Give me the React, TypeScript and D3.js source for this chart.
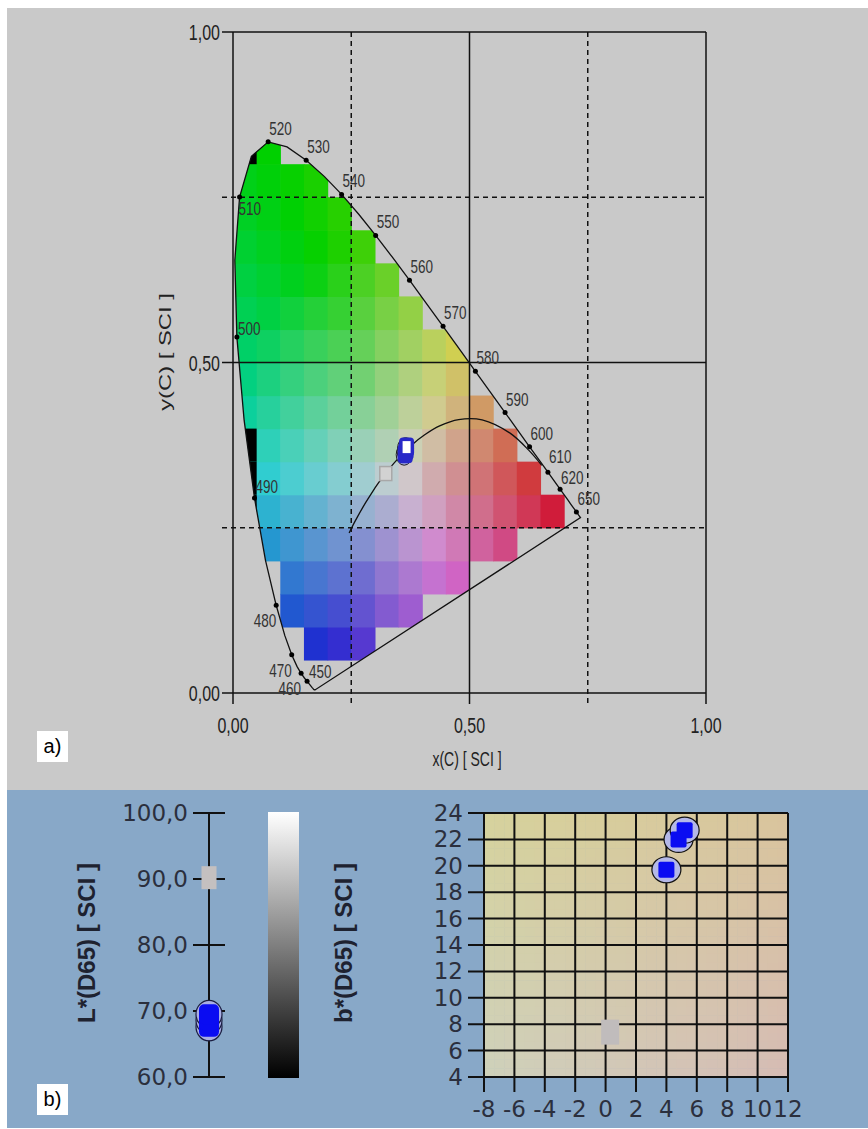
import React from 'react';
import * as d3 from 'd3';

// CIE 1931 spectral locus, 380..700 nm every 5 nm
const locusNm = [380, 385, 390, 395, 400, 405, 410, 415, 420, 425, 430, 435, 440, 445, 450, 455, 460, 465, 470, 475, 480, 485, 490, 495, 500, 505, 510, 515, 520, 525, 530, 535, 540, 545, 550, 555, 560, 565, 570, 575, 580, 585, 590, 595, 600, 605, 610, 615, 620, 625, 630, 635, 640, 645, 650, 655, 660, 665, 670, 675, 680, 685, 690, 695, 700];
const locusX = [0.1741, 0.1740, 0.1738, 0.1736, 0.1733, 0.1730, 0.1726, 0.1721, 0.1714, 0.1703, 0.1689, 0.1669, 0.1644, 0.1611, 0.1566, 0.1510, 0.1440, 0.1355, 0.1241, 0.1096, 0.0913, 0.0687, 0.0454, 0.0235, 0.0082, 0.0039, 0.0139, 0.0389, 0.0743, 0.1142, 0.1547, 0.1929, 0.2296, 0.2658, 0.3016, 0.3373, 0.3731, 0.4087, 0.4441, 0.4788, 0.5125, 0.5448, 0.5752, 0.6029, 0.6270, 0.6482, 0.6658, 0.6801, 0.6915, 0.7006, 0.7079, 0.7140, 0.7190, 0.7230, 0.7260, 0.7283, 0.7300, 0.7311, 0.7320, 0.7327, 0.7334, 0.7340, 0.7344, 0.7346, 0.7347];
const locusY = [0.0050, 0.0050, 0.0049, 0.0049, 0.0048, 0.0048, 0.0048, 0.0048, 0.0051, 0.0058, 0.0069, 0.0086, 0.0109, 0.0138, 0.0177, 0.0227, 0.0297, 0.0399, 0.0578, 0.0868, 0.1327, 0.2007, 0.2950, 0.4127, 0.5384, 0.6548, 0.7502, 0.8120, 0.8338, 0.8262, 0.8059, 0.7816, 0.7543, 0.7243, 0.6923, 0.6589, 0.6245, 0.5896, 0.5547, 0.5202, 0.4866, 0.4544, 0.4242, 0.3965, 0.3725, 0.3514, 0.3340, 0.3197, 0.3083, 0.2993, 0.2920, 0.2859, 0.2809, 0.2770, 0.2740, 0.2717, 0.2700, 0.2689, 0.2680, 0.2673, 0.2666, 0.2660, 0.2656, 0.2654, 0.2653];

const labelNm = [450, 460, 470, 480, 490, 500, 510, 520, 530, 540, 550, 560, 570, 580, 590, 600, 610, 620, 650];

// black body curve
const planckX = [0.6528, 0.6251, 0.5857, 0.5267, 0.4770, 0.4369, 0.4053, 0.3805, 0.3451, 0.3221, 0.3064, 0.2952, 0.2807, 0.2637, 0.2565, 0.2455];
const planckY = [0.3444, 0.3674, 0.3931, 0.4133, 0.4137, 0.4041, 0.3907, 0.3768, 0.3516, 0.3318, 0.3166, 0.3048, 0.2883, 0.2673, 0.2577, 0.2420];

// colour cells: columns of width 0.05, each spanning bottom..top
const cellCols = [0, 0.05, 0.10, 0.15, 0.20, 0.25, 0.30, 0.35, 0.40, 0.45, 0.50, 0.55, 0.60, 0.65];
const cellBottom = [0.20, 0.20, 0.10, 0.05, 0.05, 0.05, 0.10, 0.10, 0.15, 0.15, 0.20, 0.20, 0.25, 0.25];
const cellTop = [0.85, 0.85, 0.80, 0.80, 0.75, 0.70, 0.65, 0.60, 0.55, 0.55, 0.45, 0.40, 0.35, 0.30];
const blackCellX = [0, 0, 0, 0];
const blackCellY = [0.25, 0.30, 0.35, 0.80];

// measurements
const sampleX = [0.364, 0.366, 0.367];
const sampleY = [0.362, 0.367, 0.372];
const sampleL = [67.6, 68.6, 69.5];
const sampleA = [4.0, 4.8, 5.2];
const sampleB = [19.7, 22.0, 22.7];
const refX = 0.323;
const refY = 0.332;
const refL = 90.2;
const refA = 0.3;
const refB = 7.4;

const chromTicks = [0, 0.5, 1];
const chromTickLabels = ['0,00', '0,50', '1,00'];
const quarterLines = [0.25, 0.75];
const lTicks = [60, 70, 80, 90, 100];
const lTickLabels = ['60,0', '70,0', '80,0', '90,0', '100,0'];
const aTicks = [-8, -6, -4, -2, 0, 2, 4, 6, 8, 10, 12];
const bTicks = [4, 6, 8, 10, 12, 14, 16, 18, 20, 22, 24];

const ARIAL = 'Liberation Sans, Arial, sans-serif';
const DEJAVU = 'DejaVu Sans, Verdana, sans-serif';

// cell tint: hue = direction from the neutral point, saturation grows with distance
const WX = 0.36;
const WY = 0.33;
function cellColor(x: number, y: number) {
  const dx = x - WX;
  const dy = y - WY;
  let h = (Math.atan2(dy, dx) * 180) / Math.PI;
  if (h < 0) h += 360;
  const s = Math.min(1, 2.7 * Math.hypot(dx, dy));
  const v = 208 / 255;
  const l = v * (1 - s / 2);
  const sl = l <= 0 || l >= 1 ? 0 : (v - l) / Math.min(l, 1 - l);
  return d3.hsl(h, sl, l).formatHex();
}

const SText = ({ x, y, children, anchor = 'start', size = 14, sy = 1.4, fill = '#222' }: any) => (
  <text transform={`translate(${x},${y}) scale(1,${sy})`} textAnchor={anchor} fontSize={size} fontFamily={ARIAL} fill={fill}>
    {children}
  </text>
);

const labelOffset = (nm: number): [number, number, string] => {
  if (nm === 450) return [2, -3, 'start'];
  if (nm <= 480) return [0, 22, 'end'];
  if (nm === 490) return [1, -5, 'start'];
  if (nm === 500) return [1, -2, 'start'];
  if (nm === 510) return [-1, 18, 'start'];
  if (nm === 610) return [1, -9, 'start'];
  if (nm === 620) return [1, -5, 'start'];
  return [1, -7, 'start'];
};

function Chromaticity() {
  const x = d3.scaleLinear().domain([0, 1]).range([233, 706]);
  const y = d3.scaleLinear().domain([0, 1]).range([693, 32]);
  const pts: [number, number][] = locusX.map((v, i) => [x(v), y(locusY[i])]);
  const locusPath = d3.line()(pts) + 'Z';
  const planck = d3.line<number>().x((_, i) => x(planckX[i])).y((_, i) => y(planckY[i])).curve(d3.curveCatmullRom)(planckX);

  const cells: { x0: number; y0: number; c: string }[] = [];
  cellCols.forEach((c0, i) => {
    const n = Math.round((cellTop[i] - cellBottom[i]) / 0.05);
    for (let k = 0; k < n; k++) {
      const y0 = cellBottom[i] + k * 0.05;
      cells.push({ x0: c0, y0, c: cellColor(c0 + 0.025, y0 + 0.025) });
    }
  });
  const cw = x(0.05) - x(0);
  const ch = y(0) - y(0.05);

  return (
    <g>
      <defs>
        <clipPath id="locusClip">
          <path d={locusPath} />
        </clipPath>
      </defs>
      <g clipPath="url(#locusClip)">
        {cells.map((d, i) => (
          <rect key={i} x={x(d.x0)} y={y(d.y0 + 0.05)} width={cw + 0.6} height={ch + 0.6} fill={d.c} />
        ))}
        {blackCellX.map((bx, i) => (
          <rect key={'b' + i} x={x(bx)} y={y(blackCellY[i] + 0.05)} width={cw} height={ch} fill="#000" />
        ))}
      </g>
      {/* quarter dashed lines */}
      {quarterLines.map(q => (
        <g key={q} stroke="#111" strokeWidth={1.5} strokeDasharray="5,4">
          <line x1={x(q)} x2={x(q)} y1={y(1)} y2={y(0) + 11} />
          <line x1={x(0) - 11} x2={x(1)} y1={y(q)} y2={y(q)} />
        </g>
      ))}
      <g stroke="#111" strokeWidth={1.5}>
        <line x1={x(0.5)} x2={x(0.5)} y1={y(1)} y2={y(0) + 11} />
        <line x1={x(0) - 11} x2={x(1)} y1={y(0.5)} y2={y(0.5)} />
        <line x1={x(0)} x2={x(0)} y1={y(1)} y2={y(0) + 11} />
        <line x1={x(1)} x2={x(1)} y1={y(1)} y2={y(0) + 11} />
        <line x1={x(0) - 11} x2={x(1)} y1={y(1)} y2={y(1)} />
        <line x1={x(0) - 11} x2={x(1)} y1={y(0)} y2={y(0)} />
      </g>
      {chromTicks.map((t, i) => (
        <g key={t}>
          <SText x={x(0) - 13} y={y(t) + 8} anchor="end" size={16}>{chromTickLabels[i]}</SText>
          <SText x={x(t)} y={733} anchor="middle" size={16}>{chromTickLabels[i]}</SText>
        </g>
      ))}
      <SText x={467} y={766} anchor="middle" size={14}>x(C) [ SCI ]</SText>
      <text transform="translate(171,352) scale(1,1.4) rotate(-90)" textAnchor="middle" fontSize={17} fontFamily={ARIAL} fill="#222">
        y(C) [ SCI ]
      </text>

      <path d={locusPath} fill="none" stroke="#111" strokeWidth={1.3} />
      {labelNm.map(nm => {
        const i = locusNm.indexOf(nm);
        const px = x(locusX[i]);
        const py = y(locusY[i]);
        const [dx, dy, anchor] = labelOffset(nm);
        return (
          <g key={nm}>
            <circle cx={px} cy={py} r={2.5} fill="#000" />
            <SText x={px + dx} y={py + dy} anchor={anchor} size={13.5} fill="#333">{nm}</SText>
          </g>
        );
      })}
      <path d={planck || ''} fill="none" stroke="#111" strokeWidth={1.3} />

      <rect x={x(refX) - 6} y={y(refY) - 7} width={12} height={14} fill="#d2d2d2" stroke="#a8a8a8" strokeWidth={1.5} />
      {sampleX.map((sx, i) => (
        <ellipse key={'e' + i} cx={x(sx) - 1} cy={y(sampleY[i]) + 1} rx={8} ry={10.5} fill="#a4a8dc" stroke="#222" strokeWidth={1} />
      ))}
      {sampleX.map((sx, i) => (
        <rect key={'s' + i} x={x(sx) - 7.5} y={y(sampleY[i]) - 9.5} width={15} height={19} rx={4} fill="#2828c8" />
      ))}
      <rect x={x(sampleX[2]) - 4} y={y(sampleY[2]) - 6} width={8} height={12} fill="#ffffff" />
    </g>
  );
}

function LightnessPanel() {
  const y = d3.scaleLinear().domain([60, 100]).range([1077, 813]);
  const cx = 209;
  return (
    <g>
      <line x1={cx} x2={cx} y1={y(100)} y2={y(60)} stroke="#111" strokeWidth={2} />
      {lTicks.map((t, i) => (
        <g key={t}>
          <line x1={cx - 16} x2={cx + 16} y1={y(t)} y2={y(t)} stroke="#111" strokeWidth={2} />
          <text x={188} y={y(t) + 8} textAnchor="end" fontSize={23} fontFamily={DEJAVU} fill="#2b2f3d">{lTickLabels[i]}</text>
        </g>
      ))}
      <rect x={cx - 7.5} y={y(refL) - 11.5} width={15} height={23} fill="#c4c0c0" />
      {sampleL.map((l, i) => (
        <ellipse key={'e' + i} cx={cx} cy={y(l)} rx={13} ry={14} fill="#a9aee4" stroke="#1a1d40" strokeWidth={1.2} />
      ))}
      {sampleL.map((l, i) => (
        <rect key={'r' + i} x={cx - 10} y={y(l) - 10} width={20} height={20} rx={5} fill="#0a0cf2" />
      ))}
      <text transform="translate(95,943) rotate(-90)" textAnchor="middle" fontSize={24} fontWeight="bold" fontFamily={ARIAL} fill="#1e2230">
        L*(D65) [ SCI ]
      </text>
    </g>
  );
}

function GrayBar() {
  return (
    <g>
      <defs>
        <linearGradient id="grayGrad" x1="0" y1="0" x2="0" y2="1">
          <stop offset="0%" stopColor="#ffffff" />
          <stop offset="100%" stopColor="#000000" />
        </linearGradient>
      </defs>
      <rect x={268} y={812} width={31} height={266} fill="url(#grayGrad)" />
      <text transform="translate(352,943) rotate(-90)" textAnchor="middle" fontSize={24} fontWeight="bold" fontFamily={ARIAL} fill="#1e2230">
        b*(D65) [ SCI ]
      </text>
    </g>
  );
}

function ABPanel() {
  const x = d3.scaleLinear().domain([-8, 12]).range([484, 788]);
  const y = d3.scaleLinear().domain([4, 24]).range([1077, 813]);
  // background tint (bilinear between corner colours)
  const top = d3.interpolateRgb('#d6d29c', '#d9c49d');
  const bot = d3.interpolateRgb('#cfd1ba', '#d6bcb4');
  const nx = 30;
  const ny = 30;
  const bg: { i: number; j: number; c: string }[] = [];
  for (let i = 0; i < nx; i++) {
    for (let j = 0; j < ny; j++) {
      const u = (i + 0.5) / nx;
      const v = (j + 0.5) / ny;
      bg.push({ i, j, c: d3.interpolateRgb(top(u), bot(u))(v) });
    }
  }
  const w = (x(12) - x(-8)) / nx;
  const h = (y(4) - y(24)) / ny;
  return (
    <g>
      {bg.map(d => (
        <rect key={d.i + '-' + d.j} x={x(-8) + d.i * w} y={y(24) + d.j * h} width={w + 0.5} height={h + 0.5} fill={d.c} />
      ))}
      {aTicks.map(t => (
        <line key={'v' + t} x1={x(t)} x2={x(t)} y1={y(24)} y2={y(4) + 15} stroke="#111" strokeWidth={2} />
      ))}
      {bTicks.map(t => (
        <line key={'h' + t} x1={x(-8) - 16} x2={x(12)} y1={y(t)} y2={y(t)} stroke="#111" strokeWidth={2} />
      ))}
      {bTicks.map(t => (
        <text key={'bl' + t} x={463} y={y(t) + 8} textAnchor="end" fontSize={23} fontFamily={DEJAVU} fill="#2b2f3d">{t}</text>
      ))}
      {aTicks.map(t => (
        <text key={'al' + t} x={x(t)} y={1117} textAnchor="middle" fontSize={23} fontFamily={DEJAVU} fill="#2b2f3d">{t}</text>
      ))}
      <rect x={x(refA) - 9} y={y(refB) - 12.5} width={18} height={25} fill="#c0bcbc" />
      {sampleA.map((a, i) => (
        <ellipse key={'e' + i} cx={x(a)} cy={y(sampleB[i])} rx={14.5} ry={13} fill="#b4b8e8" stroke="#111" strokeWidth={1.2} />
      ))}
      {sampleA.map((a, i) => (
        <rect key={'r' + i} x={x(a) - 8} y={y(sampleB[i]) - 8} width={16} height={16} rx={2} fill="#0a0cf2" />
      ))}
    </g>
  );
}

export default function App() {
  return (
    <svg width={868} height={1129} style={{ position: 'absolute', left: 0, top: 0 }}>
      <rect x={0} y={0} width={868} height={1129} fill="#ffffff" />
      <rect x={7} y={8} width={861} height={782} fill="#c9c9c9" />
      <rect x={7} y={790} width={861} height={338} fill="#88a8c8" />
      <Chromaticity />
      <rect x={37} y={731} width={31} height={31} fill="#ffffff" />
      <text x={52.5} y={753} textAnchor="middle" fontSize={20} fontFamily={ARIAL} fill="#000">a)</text>
      <LightnessPanel />
      <GrayBar />
      <ABPanel />
      <rect x={37} y={1084} width={31} height={31} fill="#ffffff" />
      <text x={52.5} y={1106} textAnchor="middle" fontSize={20} fontFamily={ARIAL} fill="#000">b)</text>
    </svg>
  );
}
